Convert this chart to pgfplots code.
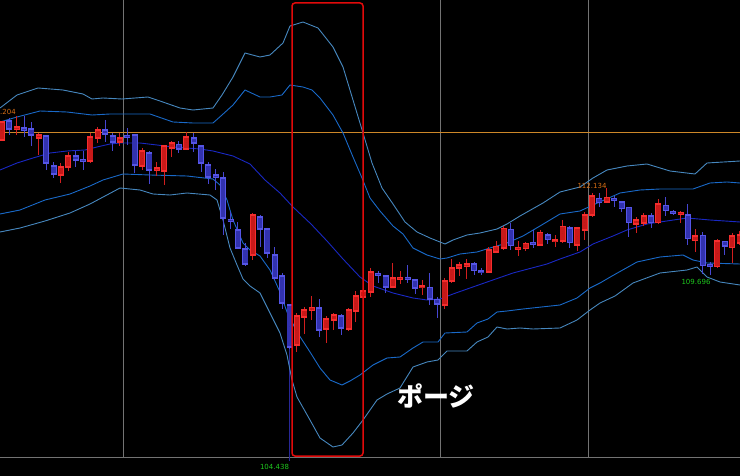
\documentclass[border=0pt]{standalone}
\usepackage{pgfplots}
\pgfplotsset{compat=1.18}
\usepackage{pgfplotstable}
\usepackage{fontspec}
\setmainfont{DejaVu Sans}
\newfontfamily\jp{Noto Sans CJK JP}
\definecolor{redfill}{RGB}{200,25,25}
\definecolor{redline}{RGB}{245,45,45}
\definecolor{bluefill}{RGB}{50,50,175}
\definecolor{blueline}{RGB}{85,85,230}
\definecolor{wickred}{RGB}{210,30,30}
\definecolor{wickblue}{RGB}{70,70,210}
\definecolor{bandouter}{RGB}{70,135,190}
\definecolor{bandinner}{RGB}{25,105,200}
\definecolor{bandmid}{RGB}{25,40,195}
\definecolor{gridgray}{RGB}{115,115,115}
\definecolor{hlorange}{RGB}{205,135,40}
\definecolor{lblorange}{RGB}{215,110,20}
\definecolor{lblgreen}{RGB}{30,200,30}
\definecolor{rectred}{RGB}{225,10,10}
\definecolor{markblue}{RGB}{40,40,150}

% candle data: index, high, body top, body bottom, low, type (1 = up/red, 0 = down/blue); screen units (y downwards)
\pgfplotstableread{
i h top bot l t
0 121 122 140 141 1
1 118 121 129 135 0
2 116 127 129 135 1
3 116 128 130 137 0
4 122 129 135 146 0
5 133 135 138 155 1
6 135 136 163 170 0
7 162 166 174 178 0
8 163 167 175 183 1
9 152 156 167 171 1
10 151 156 160 167 0
11 151 159.5 161 170 0
12 133 137 161 163 1
13 127 130 138 143 1
14 120 130 134 142 0
15 133 136 142 151 0
16 133 138 142 146 1
17 128 135.5 137 145 0
18 134 135 165 173 0
19 148 151 166 170 1
20 151 153 170 184 0
21 162 168 170 176 1
22 145 146 171 185 1
23 141 143 148 157 1
24 141 144.5 149 153 0
25 132 137 149 150 1
26 133 138 143 152 0
27 145 146 163 172 0
28 162 165 177 184 0
29 169 175 177 190 0
30 172 178 218 235 0
31 212 219.5 221 229 0
32 222 230 248 249 0
33 243 249 264 266 0
34 213 215 255 260 1
35 215 217 229 247 0
36 228 229 253 258 0
37 247 255 278 280 0
38 273 276 303 309 0
39 304 305 347 349 0
40 313 316 345 352 1
41 307 310 317 334 1
42 296 307.5 310.5 320 1
43 299 308 330 337 0
44 316 319 329 343 1
45 313 315 320 330 1
46 314 316 328 335 0
47 308 310 329 331 1
48 291 296 311 322 1
49 287 291 297 304 1
50 268 272 292 297 1
51 271 273.5 275 283 0
52 275 276 287 293 0
53 263 278 287 288 1
54 271 277.5 279 284 1
55 265 277.5 279 283 0
56 279 280 288 294 0
57 280 286 287.5 295 1
58 273 287.5 299 305 0
59 297 299.5 304 318 0
60 278 281 305 309 1
61 259 268 281 283 1
62 262 265 268 276 1
63 259 264 266 279 1
64 262 264 270.5 275 0
65 268 271 272.5 275 0
66 247 250 272 273 1
67 241 246.5 252 253 1
68 226 228.5 248 250 1
69 223 229.5 245.5 250 0
70 241.5 247.5 249 256 1
71 242 243.5 248.3 251 1
72 230 242.5 244 248 0
73 230 232.5 245 246 1
74 233 235 239.5 244 0
75 235 240 241.5 247 1
76 220 226.5 241 243 1
77 226 228 242.5 248 0
78 227 228 245 251 1
79 212 215 230 240 1
80 193 196 215 217 1
81 193 198.3 202.7 207 0
82 188 197.3 202 203 1
83 196 198.5 200.5 207 0
84 201 202 208.3 212 0
85 207 207.7 222.7 237 0
86 217 220 224 233 1
87 213 216 223 226 1
88 213 216 222.7 228 0
89 199 204 222.7 224 1
90 197 205.5 210.7 216 0
91 210 211.5 213 215 0
92 211.5 212.5 214 223 1
93 204 215 238.5 245 0
94 229 236 240.5 252 1
95 232 235.5 265.5 274 0
96 262 264.5 266 275 0
97 239 241 266.7 268 1
98 241 241.5 246 255 0
99 233 236 247.5 263 1
100 231 235 243 245 1
}\candles

\pgfplotstableread{
x y
0 108
17 95
38 88
63 90
83 94
92 99
103 98
122 99
148 97
160 101
180 108
193 110
213 108
222 95
233 77
245 53
260 57
270 55
283 43
290 26
303 22
318 28
333 47
343 67
353 100
363 133
372 163
382 188
393 204
405 222
417 232
430 238
445 244
453 240
467 235
480 233
497 229
507 224
520 216
543 203
560 192
580 187
593 178
607 170
627 166
647 164
670 171
695 174
707 163
740 161
}\bandOU

\pgfplotstableread{
x y
0 122
17 117
40 111
67 112
92 115
110 114
123 114
150 114
173 122
193 123
213 123
222 115
233 105
245 90
260 97
270 97
282 95
290 85
303 87
312 90
320 98
333 115
343 133
353 157
362 178
370 198
380 211
393 226
403 234
413 248
427 255
440 259
447 258
460 254
477 252
490 248
507 243
523 236
540 226
560 214
580 211
593 205
620 193
640 190
660 189
693 189
710 183
727 182
740 183
}\bandIU

\pgfplotstableread{
x y
0 170
17 163
33 158
50 153
67 151
85 150
97 147
110 144
120 143
140 143
157 145
173 147
200 149
213 151
233 156
250 164
265 180
280 193
293 207
311 224
327 241
343 259
360 277
373 286
393 293
413 298
427 300
440 299
453 294
470 288
490 281
513 273
547 264
560 259
580 252
593 244
613 236
627 230
647 224
660 222
687 218
710 220
740 222
}\bandMB

\pgfplotstableread{
x y
0 214
20 210
45 200
70 194
90 186
103 180
123 174
150 175
187 176
213 179
220 185
227 200
233 220
243 243
250 250
260 256
270 270
280 292
287 312
297 332
310 352
320 368
330 380
342 385
350 381
360 375
373 365
387 358
400 357
413 348
423 342
438 342
445 333
467 332
477 323
488 319
497 312
507 311
523 309
560 305
577 298
590 288
600 283
612 276
637 262
660 257
683 255
693 260
707 263
740 264
}\bandLI

\pgfplotstableread{
x y
0 232
20 228
45 221
70 213
90 204
105 196
120 188
140 190
153 194
170 195
187 193
210 195
217 200
223 220
230 248
237 265
243 279
250 286
260 293
270 313
280 333
287 355
292 380
297 397
310 420
320 438
333 447
342 445
353 433
363 420
377 400
387 394
400 388
413 367
427 362
438 360
447 351
467 351
477 342
488 337
497 327
507 329
520 328
533 329
560 328
577 320
590 310
600 303
615 296
633 283
660 273
687 270
697 267
707 277
720 282
740 285
}\bandLO

\begin{document}
\begin{tikzpicture}
\begin{axis}[
  x=1pt, y=1pt,
  xmin=0, xmax=740, ymin=0, ymax=476,
  y dir=reverse,
  axis background/.style={fill=black},
  axis line style={draw=none},
  ticks=none,
  clip=true,
]
% grid and reference lines
\draw[gridgray, line width=0.8pt] (axis cs:123.5,0) -- (axis cs:123.5,457);
\draw[gridgray, line width=0.8pt] (axis cs:440.5,0) -- (axis cs:440.5,457);
\draw[gridgray, line width=0.8pt] (axis cs:588,0) -- (axis cs:588,457);
\draw[gridgray, line width=0.8pt] (axis cs:0,457) -- (axis cs:740,457);
\draw[hlorange, line width=1pt] (axis cs:0,133) -- (axis cs:740,133);
\draw[markblue, line width=0.9pt] (axis cs:289.6,349) -- (axis cs:289.6,461);

% bands
\addplot[bandouter, line width=0.9pt, line join=round] table[x=x,y=y] {\bandOU};
\addplot[bandinner, line width=0.9pt, line join=round] table[x=x,y=y] {\bandIU};
\addplot[bandmid, line width=0.9pt, line join=round] table[x=x,y=y] {\bandMB};
\addplot[bandinner, line width=0.9pt, line join=round] table[x=x,y=y] {\bandLI};
\addplot[bandouter, line width=0.9pt, line join=round] table[x=x,y=y] {\bandLO};

% wicks
\addplot[only marks, no markers, mark options={scale=0, draw=none, fill=none},
  x filter/.expression={\thisrow{t}>0.5 ? x : nan},
  error bars/.cd, y dir=both, y explicit, error mark=none,
  error bar style={line width=1pt, color=wickred}]
  table[x expr=1.9+7.377*\thisrow{i}, y expr=(\thisrow{h}+\thisrow{l})/2,
        y error expr=(\thisrow{l}-\thisrow{h})/2] {\candles};
\addplot[only marks, no markers, mark options={scale=0, draw=none, fill=none},
  x filter/.expression={\thisrow{t}>0.5 ? nan : x},
  error bars/.cd, y dir=both, y explicit, error mark=none,
  error bar style={line width=1pt, color=wickblue}]
  table[x expr=1.9+7.377*\thisrow{i}, y expr=(\thisrow{h}+\thisrow{l})/2,
        y error expr=(\thisrow{l}-\thisrow{h})/2] {\candles};
% bodies: border
\addplot[only marks, no markers, mark options={scale=0, draw=none, fill=none},
  x filter/.expression={\thisrow{t}>0.5 ? x : nan},
  error bars/.cd, y dir=both, y explicit, error mark=none,
  error bar style={line width=6pt, color=redline}]
  table[x expr=1.9+7.377*\thisrow{i}, y expr=(\thisrow{top}+\thisrow{bot})/2,
        y error expr=(\thisrow{bot}-\thisrow{top})/2+0.6] {\candles};
\addplot[only marks, no markers, mark options={scale=0, draw=none, fill=none},
  x filter/.expression={\thisrow{t}>0.5 ? nan : x},
  error bars/.cd, y dir=both, y explicit, error mark=none,
  error bar style={line width=6pt, color=blueline}]
  table[x expr=1.9+7.377*\thisrow{i}, y expr=(\thisrow{top}+\thisrow{bot})/2,
        y error expr=(\thisrow{bot}-\thisrow{top})/2+0.6] {\candles};
% bodies: fill
\addplot[only marks, no markers, mark options={scale=0, draw=none, fill=none},
  x filter/.expression={\thisrow{t}>0.5 ? x : nan},
  error bars/.cd, y dir=both, y explicit, error mark=none,
  error bar style={line width=4.4pt, color=redfill}]
  table[x expr=1.9+7.377*\thisrow{i}, y expr=(\thisrow{top}+\thisrow{bot})/2,
        y error expr={max((\thisrow{bot}-\thisrow{top})/2-0.6,0.1)}] {\candles};
\addplot[only marks, no markers, mark options={scale=0, draw=none, fill=none},
  x filter/.expression={\thisrow{t}>0.5 ? nan : x},
  error bars/.cd, y dir=both, y explicit, error mark=none,
  error bar style={line width=4.4pt, color=bluefill}]
  table[x expr=1.9+7.377*\thisrow{i}, y expr=(\thisrow{top}+\thisrow{bot})/2,
        y error expr={max((\thisrow{bot}-\thisrow{top})/2-0.6,0.1)}] {\candles};

% highlight box
\draw[rectred, line width=1.5pt, rounded corners=3pt] (axis cs:292,3) rectangle (axis cs:363,456);

% labels
\node[anchor=west, inner sep=0pt, text=lblorange, font=\fontsize{7}{8}\selectfont] at (axis cs:0,112) {.204};
\node[inner sep=0pt, text=lblorange, font=\fontsize{7}{8}\selectfont] at (axis cs:592,186) {112.134};
\node[inner sep=0pt, text=lblgreen, font=\fontsize{7}{8}\selectfont] at (axis cs:274.5,467) {104.438};
\node[inner sep=0pt, text=lblgreen, font=\fontsize{7}{8}\selectfont] at (axis cs:696,282) {109.696};
\node[inner sep=0pt, text=white, font={\jp\bfseries\fontsize{26}{30}\selectfont}] at (axis cs:436,396) {ポージ};
\end{axis}
\end{tikzpicture}
\end{document}
